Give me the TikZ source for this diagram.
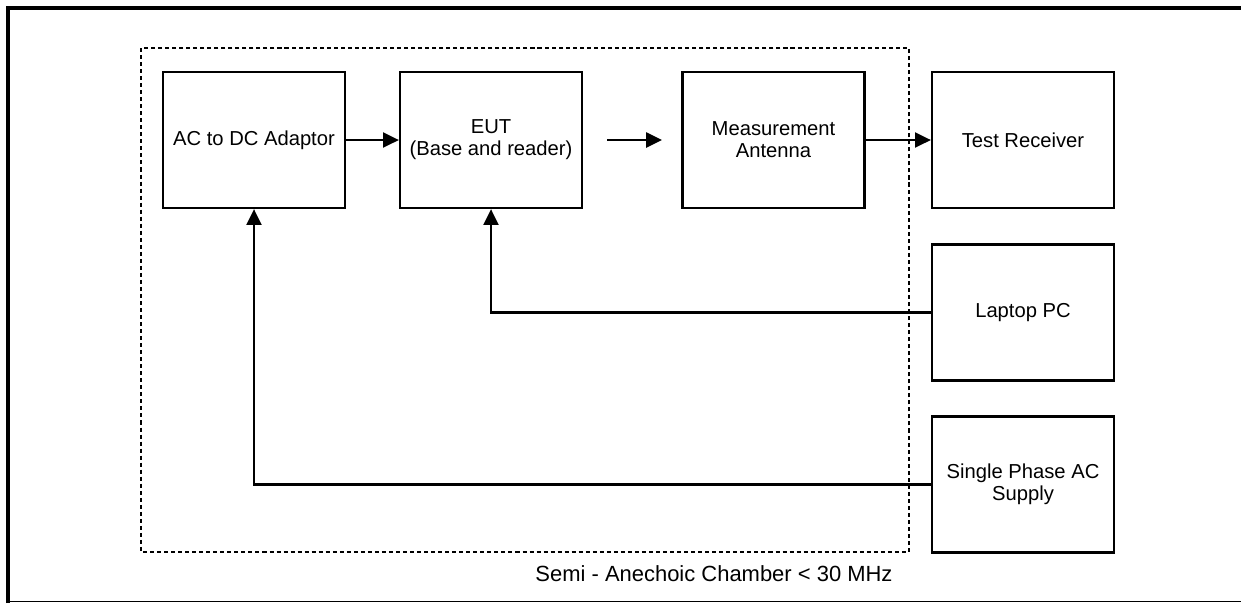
\documentclass[tikz,border=0pt]{standalone}
\usepackage{fontspec}
\setmainfont{Liberation Sans}
\usetikzlibrary{arrows.meta}
\tikzset{
  unit/.style={draw, line width=1.3pt, minimum width=3.64cm, minimum height=2.72cm, align=center, font=\fontsize{11.5}{12.5}\selectfont},
  link/.style={line width=1.3pt, -{Triangle[length=9pt,width=8.5pt]}}
}
\begin{document}
\begin{tikzpicture}[x=0.02cm, y=-0.02cm]
            \useasboundingbox (0,0) rectangle (1241,603);

            % frame and chamber
            \draw[line width=2.5pt] (8,603) -- (8,8) -- (1241,8);
            \draw[line width=0.8pt] (8,601.5) -- (1241,601.5);
            \draw[line width=1.5pt, dash pattern=on 2.3pt off 1.7pt] (141,48) rectangle (909,552);

            \node[unit] (adaptor) at (254,140) {AC to DC Adaptor};
            \node[unit] (eut) at (491,140) {EUT\\(Base and reader)};
            \node[unit] (antenna) at (773.5,140) {Measurement\\Antenna};
            \node[unit] (receiver) at (1023,140) {Test Receiver};
            \node[unit] (laptop) at (1023,312.5) {Laptop PC};
            \node[unit] (supply) at (1023,484.5) {Single Phase AC\\Supply};
            \node[font=\fontsize{12.5}{13.5}\selectfont] (chamber) at (714,574) {Semi - Anechoic Chamber < 30 MHz};

            \coordinate (radiofrom) at (607,140);
            \coordinate (radioto) at (662,140);

            \draw[link] (adaptor) -- (eut);
            \draw[link] (radiofrom) -- (radioto);
            \draw[link] (antenna) -- (receiver);
            \draw[link] (laptop.west) -| (eut.south);
            \draw[link] (supply.west) -| (adaptor.south);
        \end{tikzpicture}
\end{document}
